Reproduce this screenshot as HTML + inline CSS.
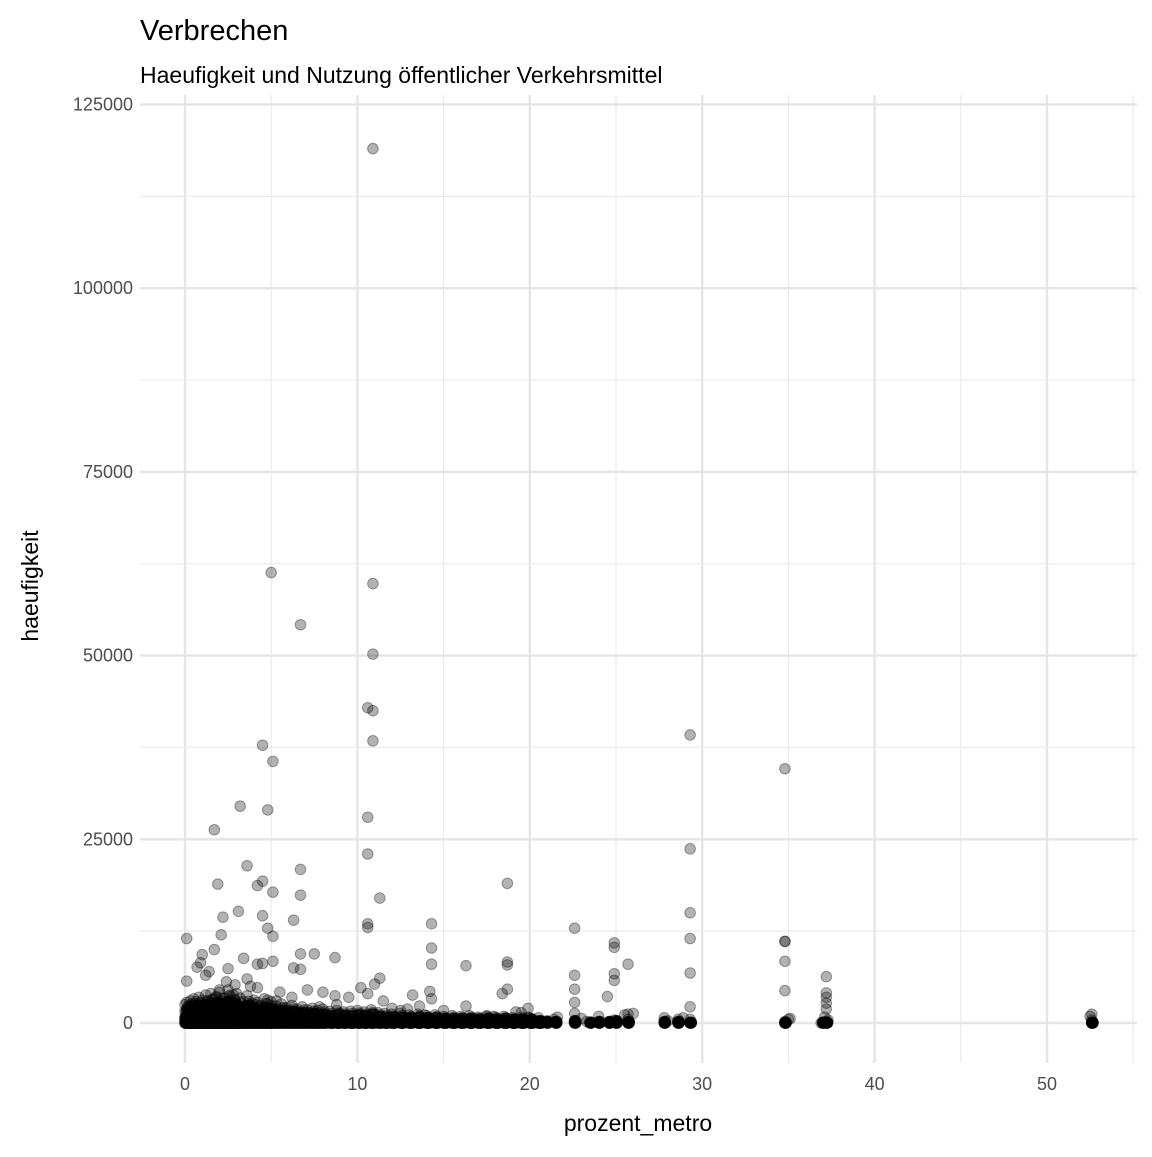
<!DOCTYPE html>
<html><head><meta charset="utf-8"><style>
body{margin:0;background:#fff;}
svg text{font-family:"Liberation Sans",Arial,sans-serif;}
</style></head><body>
<svg id="chart" width="1152" height="1152" xmlns="http://www.w3.org/2000/svg">
<text x="140" y="40" font-size="29" fill="#000">Verbrechen</text>
<text x="140" y="83" font-size="23" fill="#000">Haeufigkeit und Nutzung öffentlicher Verkehrsmittel</text>
<g id="grid"></g>
<g id="axes"></g>
<g id="points"></g>
<text x="638" y="1131" font-size="23" text-anchor="middle" fill="#000">prozent_metro</text>
<text transform="translate(38,586) rotate(-90)" font-size="23" text-anchor="middle" fill="#000">haeufigkeit</text>
</svg>
<script>
const xTicks=[0,10,20,30,40,50];
const yTicks=[0,25000,50000,75000,100000,125000];
const yTickLabels=["0","25000","50000","75000","100000","125000"];
const outX=[10.9,5.0,10.9,6.7,10.9,10.6,10.9,10.9,4.5,5.1,29.3,34.8,3.2,4.8,10.6,1.7,29.3,10.6,3.6,6.7,4.5,4.2,1.9,18.7,5.1,6.7,11.3,3.1,29.3,2.2,4.5,6.3,14.3,10.6,10.6,22.6,4.8,2.1,5.1,0.1,29.3,34.8,34.8,24.9,24.9,14.3,1.7,1.0,6.7,7.5,8.7,3.4,5.1,18.7,34.8,14.3,16.3,25.7,18.7,0.7,4.2,4.5,6.3,6.7,2.5,37.2,29.3,22.6,24.9,11.3,24.9,0.1,3.6,22.6,18.7,34.8,37.2,37.2,24.5,13.2,14.3,22.6,29.3,37.2,37.2,52.6,52.6,52.6,37.0,36.9,35.0,34.8,29.3,28.6,28.0,27.8,25.7,25.7,24.9,23.5,23.3,22.6,22.6,21.4,21.0,20.6,19.9,19.9,19.2,18.4,17.5,16.3,15.0,15.8,14.2,13.6,12.5,12.0,11.5,10.6,11.0,10.2,9.5,8.8,8.7,8.0,7.1,6.2,5.5,5.8,4.8,4.2,3.8,2.9,2.4,1.4,0.9,1.2,2.0,2.6,3.0,3.9,4.6,0.4,0.6,1.8,5.3,7.8,9.0,12.9,13.9,16.8,17.9,19.5,20.5,21.6,23.0,24.0,25.5,26.0,28.9,37.3,37.2,37.1,35.1,52.5];
const outY=[119000,61300,59800,54200,50200,42900,42500,38400,37800,35600,39200,34600,29500,29000,28000,26300,23700,23000,21400,20900,19300,18700,18900,19000,17800,17400,17000,15200,15000,14400,14600,14000,13500,13500,13000,12900,12900,12000,11800,11500,11500,11100,11100,10900,10300,10200,10000,9300,9400,9400,8900,8800,8400,8300,8400,8000,7800,8000,7900,7600,8000,8100,7500,7300,7400,6300,6800,6500,6700,6100,5800,5700,6000,4600,4600,4400,4100,3500,3600,3800,3300,2800,2200,2700,1900,1200,400,0,100,0,500,200,500,500,300,700,1200,500,400,100,200,1300,300,500,300,200,2000,800,1500,4000,1000,2300,1700,500,4300,2300,1700,2000,3000,4000,5300,4800,3500,2500,3700,4200,4500,3500,4200,2000,3100,4800,5000,5200,5600,7000,8200,6500,4500,3800,4000,2700,1600,1000,2400,3500,3000,2200,1300,1900,1100,600,900,1400,700,800,600,900,1100,1300,700,400,200,800,600,900,1400,700];
const bandX=[0.0,0.1,0.2,0.3,0.4,0.5,0.6,0.7,0.8,0.9,1.0,1.1,1.2,1.3,1.4,1.5,1.6,1.7,1.8,1.9,2.0,2.1,2.2,2.3,2.4,2.5,2.6,2.7,2.8,2.9,3.0,3.2,3.4,3.6,3.8,4.0,4.2,4.4,4.6,4.8,5.0,5.3,5.6,5.9,6.2,6.5,6.8,7.1,7.4,7.7,8.0,8.4,8.8,9.2,9.6,10.0,10.4,10.8,11.2,11.6,12.0,12.5,13.0,13.5,14.0,14.5,15.0,15.5,16.0,16.5,17.0,17.5,18.0,18.5,19.0,19.5,20.0,20.5,21.0,21.5,22.6,23.5,24.0,24.6,25.0,25.7,27.8,28.6,29.3,34.8,37.0,37.2,52.6];
const bandY0=[0,0,0,0,0,0,0,0,0,0,0,0,0,0,0,0,0,0,0,0,0,0,0,0,0,0,0,0,0,0,0,0,0,0,0,0,0,0,0,0,0,0,0,0,0,0,0,0,0,0,0,0,0,0,0,0,0,0,0,0,0,0,0,0,0,0,0,0,0,0,0,0,0,0,0,0,0,0,0,0,0,0,0,0,0,0,0,0,0,0,0,0,0];
const bandY1=[800,700,900,800,1000,900,800,1100,900,1000,1200,900,1000,800,1100,900,1000,800,900,700,1000,900,800,700,900,800,700,900,800,700,800,700,900,700,800,600,700,800,600,700,600,700,600,500,600,500,600,500,400,500,400,500,400,500,400,500,400,600,400,300,400,300,400,300,400,300,300,300,300,300,300,300,300,300,300,300,300,200,200,200,300,100,200,200,300,200,200,200,100,100,100,100,100];
const bandY2=[2500,2800,2300,3000,2600,3300,2900,2400,3500,2700,3100,2600,3800,2900,2500,4000,3200,2700,3600,2800,4200,3000,2600,3400,2900,4500,3100,2700,3800,3200,2600,3400,2900,3700,2500,3100,2800,2400,3300,2600,2900,2300,2600,2100,2400,1900,2200,1800,2000,1700,1900,1600,1700,1500,1600,1700,1500,1800,1400,1300,1200,1300,1100,1200,1000,1100,900,1000,900,1000,800,900,800,900,700,800,700,0,0,0,0,0,0,0,0,0,0,0,0,0,0,0,0];
const bandY3=[1600,1800,1500,2000,1700,2200,1900,1600,2300,1800,2000,1700,2500,1900,1600,2600,2100,1800,2400,1800,2700,2000,1700,2200,1900,2900,2000,1800,2500,2100,1700,2200,1900,2400,1600,2000,1800,1600,2100,1700,1900,1500,1700,1400,1600,1300,1400,1200,1300,1100,1200,1000,1100,1000,1000,1100,1000,1200,900,800,800,800,700,800,700,700,600,600,600,600,500,600,500,600,500,500,500,300,300,300,300,200,300,300,400,300,300,300,200,200,200,200,200];
const NS="http://www.w3.org/2000/svg";
const L=140,R=1137,T=95,B=1063;
const xs=v=>185+v*17.24;
const ys=v=>1023-v*(183.7/25000);
function mk(tag,attrs,parent){const e=document.createElementNS(NS,tag);for(const k in attrs)e.setAttribute(k,attrs[k]);parent.appendChild(e);return e;}
const grid=document.getElementById('grid'),axes=document.getElementById('axes'),pts=document.getElementById('points');
for(let i=0;i<xTicks.length;i++){
  const v=xTicks[i];
  const m=mk('line',{x1:xs(v+5),x2:xs(v+5),y1:T,y2:B,stroke:'#ebebeb','stroke-width':1.2},grid);
  
  
  const g=mk('line',{x1:xs(v),x2:xs(v),y1:T,y2:B,stroke:'#e5e5e5','stroke-width':2.4},grid);
  
  
  const t=mk('text',{x:xs(v),y:1090,'font-size':18,'text-anchor':'middle',fill:'#4d4d4d'},axes);
  t.textContent=String(v);
  
  
}
for(let i=0;i<yTicks.length;i++){
  const v=yTicks[i];
  if(i<yTicks.length-1){
    const m=mk('line',{x1:L,x2:R,y1:ys(v+12500),y2:ys(v+12500),stroke:'#ebebeb','stroke-width':1.2},grid);
    
    
  }
  const g=mk('line',{x1:L,x2:R,y1:ys(v),y2:ys(v),stroke:'#e5e5e5','stroke-width':2.4},grid);
  
  
  const t=mk('text',{x:133,y:ys(v)+6,'font-size':18,'text-anchor':'end',fill:'#4d4d4d'},axes);
  t.textContent=yTickLabels[i];
  
  
}
function dot(x,y){
  const c=mk('circle',{cx:xs(x),cy:ys(y),r:5.3,fill:'rgba(0,0,0,0.3)',stroke:'rgba(0,0,0,0.35)','stroke-width':1},pts);
  
  
}
const offs=[0,0.06,0.12,0.18];
for(let i=0;i<bandX.length;i++){
  const n=bandX[i]<21?4:2;
  for(let k=0;k<n;k++){
    const x=bandX[i]+offs[k];
    dot(x,bandY0[i]);dot(x,bandY0[i]);dot(x,bandY0[i]);
    dot(x,bandY1[i]);dot(x,bandY1[i]);
    dot(x,bandY1[i]/2);dot(x,bandY1[i]/2);
    if(bandX[i]<21){dot(x,bandY3[i]);}
  }
  if(bandY2[i]>0){dot(bandX[i],bandY2[i]);dot(bandX[i]+0.1,bandY2[i]*0.8);}
}
for(let i=0;i<outX.length;i++)dot(outX[i],outY[i]);
</script>
</body></html>
